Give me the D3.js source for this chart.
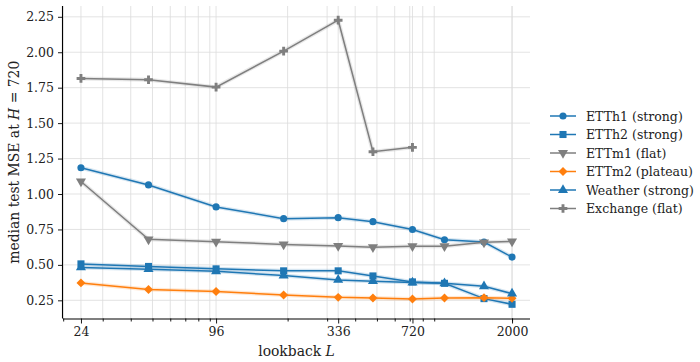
<!DOCTYPE html>
<html lang="en">
<head>
<meta charset="UTF-8">
<style>
    body { margin: 0; padding: 0; background: #fff; overflow: hidden; }
    svg { display: block; }
    svg text { font-family: "DejaVu Serif", serif !important; }
    .grid line { stroke: #dcdcdc; stroke-width: 0.8px; }
</style>
</head>
<body>
<svg id="chart" width="700" height="362"></svg>
<script src="https://cdn.jsdelivr.net/npm/d3@7"></script>
<script>
// lookback values (x)
const lookbacks = [24, 48, 96, 192, 336, 480, 720, 1000, 1500, 2000];
const xTickValues = [24, 96, 336, 720, 2000];

// median test MSE at H = 720 per dataset
const etth1 = [1.185, 1.064, 0.909, 0.826, 0.833, 0.805, 0.750, 0.677, 0.661, 0.555];
const etth2 = [0.507, 0.489, 0.472, 0.458, 0.458, 0.422, 0.380, 0.370, 0.262, 0.222];
const ettm1 = [1.088, 0.680, 0.663, 0.644, 0.634, 0.625, 0.632, 0.632, 0.659, 0.666];
const ettm2 = [0.373, 0.326, 0.312, 0.288, 0.271, 0.266, 0.259, 0.266, 0.269, 0.264];
const weather = [0.482, 0.470, 0.455, 0.425, 0.394, 0.385, 0.375, 0.370, 0.349, 0.297];
const exchange = [1.815, 1.806, 1.754, 2.008, 2.226, 1.298, 1.329];

const seriesNames = ["ETTh1 (strong)", "ETTh2 (strong)", "ETTm1 (flat)", "ETTm2 (plateau)", "Weather (strong)", "Exchange (flat)"];
const seriesValues = [etth1, etth2, ettm1, ettm2, weather, exchange];
const seriesColors = ["#1f77b4", "#1f77b4", "#7f7f7f", "#ff7f0e", "#1f77b4", "#7f7f7f"];
const seriesMarkers = ["circle", "square", "tridown", "diamond", "triup", "plus"];

const svg = d3.select("#chart");
const plotL = 63, plotR = 530, plotT = 6, plotB = 318.5;

// log x with equal padding on both ends
const pad = Math.pow(10, 0.08);
const x = d3.scaleLog()
    .domain([d3.min(lookbacks) / pad, d3.max(lookbacks) * pad])
    .range([plotL, plotR]);

const allVals = seriesValues.flat();
const yMin = d3.min(allVals), yMax = d3.max(allVals);
const yPad = (yMax - yMin) * 0.05;
const y = d3.scaleLinear()
    .domain([yMin - yPad, yMax + yPad])
    .range([plotB, plotT]);

// minor ticks: 2..9 times each decade
const minorTicks = [];
for (let p = 1; p <= 3; p++) {
    for (let m = 2; m <= 9; m++) {
        const v = m * Math.pow(10, p);
        if (v >= x.domain()[0] && v <= x.domain()[1]) minorTicks.push(v);
    }
}
const yTicks = [0.25, 0.5, 0.75, 1.0, 1.25, 1.5, 1.75, 2.0, 2.25];

// grid
const grid = svg.append("g").attr("class", "grid");
grid.selectAll(".vx").data(xTickValues.concat(minorTicks)).enter().append("line")
    .attr("x1", d => x(d)).attr("x2", d => x(d))
    .attr("y1", plotT).attr("y2", plotB);
grid.selectAll(".hy").data(yTicks).enter().append("line")
    .attr("x1", plotL).attr("x2", plotR)
    .attr("y1", d => y(d)).attr("y2", d => y(d));

// axes
const xAxis = svg.append("g")
    .attr("transform", `translate(0,${plotB})`)
    .call(d3.axisBottom(x).tickValues(xTickValues).tickFormat(d3.format("d")).tickSize(5).tickPadding(4));
svg.append("g")
    .attr("transform", `translate(0,${plotB})`)
    .call(d3.axisBottom(x).tickValues(minorTicks).tickFormat("").tickSize(3))
    .call(g => g.select(".domain").remove());
const yAxis = svg.append("g")
    .attr("transform", `translate(${plotL},0)`)
    .call(d3.axisLeft(y).tickValues(yTicks).tickFormat(d3.format(".2f")).tickSize(5).tickPadding(4));
svg.selectAll(".tick text").attr("font-size", 12.5).attr("fill", "#222");
svg.selectAll(".domain").attr("stroke", "#000").attr("stroke-width", 1.1);
xAxis.select(".domain").attr("d", `M${plotL},0.5H${plotR}`);
yAxis.select(".domain").attr("d", `M-0.5,${plotT}V${plotB}`);
svg.selectAll(".tick line").attr("stroke", "#000").attr("stroke-width", 0.9);

// axis labels
const xl = svg.append("text")
    .attr("x", (plotL + plotR) / 2).attr("y", 356)
    .attr("text-anchor", "middle").attr("font-size", 13.9).attr("fill", "#222");
xl.append("tspan").text("lookback ");
xl.append("tspan").attr("font-style", "italic").text("L");

const yl = svg.append("text")
    .attr("transform", `translate(19,${(plotT + plotB) / 2}) rotate(-90)`)
    .attr("text-anchor", "middle").attr("font-size", 13.9).attr("fill", "#222");
yl.append("tspan").text("median test MSE at ");
yl.append("tspan").attr("font-style", "italic").text("H");
yl.append("tspan").text(" = 720");

// marker shapes
function markerPath(kind) {
    switch (kind) {
        case "circle": return d3.symbol(d3.symbolCircle, 40)();
        case "square": return d3.symbol(d3.symbolSquare, 50)();
        case "diamond": return d3.symbol(d3.symbolSquare, 40)();
        case "triup": return d3.symbol(d3.symbolTriangle, 44)();
        case "tridown": return d3.symbol(d3.symbolTriangle, 44)();
        case "plus": return d3.symbol(d3.symbolCross, 42)();
    }
}
function markerRot(kind) {
    if (kind === "diamond") return 45;
    if (kind === "tridown") return 180;
    return 0;
}

const line = d3.line().x(d => x(d[0])).y(d => y(d[1]));

seriesValues.forEach((vals, i) => {
    const pts = vals.map((v, j) => [lookbacks[j], v]);
    const g = svg.append("g");
    // faint band under the line
    g.append("path").datum(pts).attr("d", line)
        .attr("fill", "none").attr("stroke", seriesColors[i])
        .attr("stroke-width", 4).attr("stroke-opacity", 0.18);
    g.append("path").datum(pts).attr("d", line)
        .attr("fill", "none").attr("stroke", seriesColors[i])
        .attr("stroke-width", 1.5);
    g.selectAll(".m").data(pts).enter().append("path")
        .attr("d", markerPath(seriesMarkers[i]))
        .attr("transform", d => `translate(${x(d[0])},${y(d[1])}) rotate(${markerRot(seriesMarkers[i])})`)
        .attr("fill", seriesColors[i]);
});

// legend
const leg = svg.append("g");
seriesNames.forEach((name, i) => {
    const ly = 116 + i * 18.5;
    const row = leg.append("g").attr("transform", `translate(0,${ly})`);
    row.append("line").attr("x1", 550).attr("x2", 576).attr("y1", 0).attr("y2", 0)
        .attr("stroke", seriesColors[i]).attr("stroke-width", 1.5);
    row.append("path").attr("d", markerPath(seriesMarkers[i]))
        .attr("transform", `translate(563,0) rotate(${markerRot(seriesMarkers[i])})`)
        .attr("fill", seriesColors[i]);
    row.append("text").attr("x", 586).attr("y", 4.5)
        .attr("font-size", 12.5).attr("fill", "#222").text(name);
});
</script>
</body>
</html>
